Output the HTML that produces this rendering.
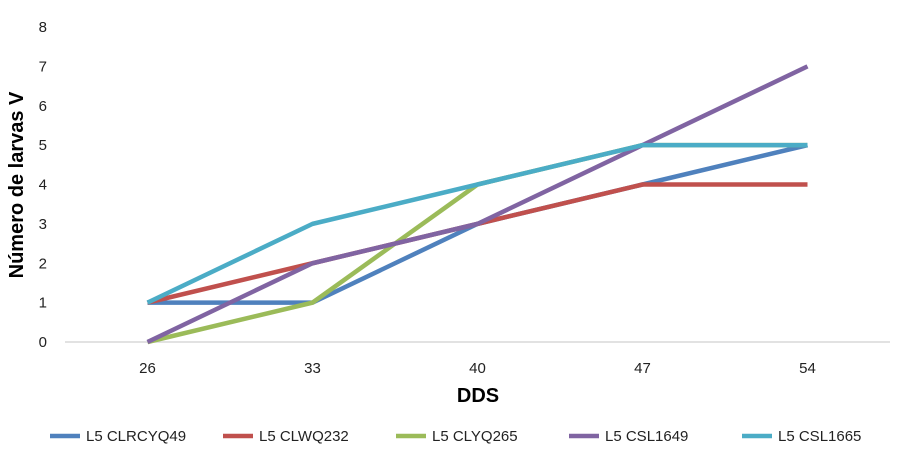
<!DOCTYPE html>
<html><head><meta charset="utf-8"><style>
body{margin:0;background:#fff;font-family:"Liberation Sans",sans-serif}
svg text{font-family:"Liberation Sans",sans-serif}
</style></head><body>
<svg id="chart" width="900" height="468">
<g id="axes"></g><g id="series"></g><g id="legend"></g>
</svg>
<script>
const categories=["26","33","40","47","54"];
const yTicks=[0,1,2,3,4,5,6,7,8];
const seriesNames=["L5 CLRCYQ49","L5 CLWQ232","L5 CLYQ265","L5 CSL1649","L5 CSL1665"];
const colors=["#4F81BD","#C0504D","#9BBB59","#8064A2","#4BACC6"];
const s1=[1,1,3,4,5];
const s2=[1,2,3,4,4];
const s3=[0,1,4,5,5];
const s4=[0,2,3,5,7];
const s5=[1,3,4,5,5];
const seriesValues=[s1,s2,s3,s4,s5];
const NS="http://www.w3.org/2000/svg";
const x0=65,x1=890,y0=342,yTop=27;
const xs=i=>x0+(x1-x0)*(i+0.5)/categories.length;
const ys=v=>y0-(y0-yTop)*v/8;
function mk(tag,attrs,parent){const e=document.createElementNS(NS,tag);for(const k in attrs)e.setAttribute(k,attrs[k]);parent.appendChild(e);return e;}
const ax=document.getElementById('axes');
const xl=mk('line',{x1:x0,x2:x1,y1:y0,y2:y0,stroke:'#D9D9D9','stroke-width':1.5},ax);


yTicks.forEach(v=>{
 const t=mk('text',{x:47,y:ys(v)+5,'text-anchor':'end','font-size':15,fill:'#222'},ax);t.textContent=v;
 
 
});
categories.forEach((c,i)=>{
 const t=mk('text',{x:xs(i),y:373,'text-anchor':'middle','font-size':15,fill:'#222'},ax);t.textContent=c;
 
 
});
const xt=mk('text',{x:478,y:402,'text-anchor':'middle','font-size':20,'font-weight':'bold',fill:'#000'},ax);xt.textContent="DDS";


const yt=mk('text',{x:0,y:0,transform:'translate(23,185) rotate(-90)','text-anchor':'middle','font-size':20,'font-weight':'bold',fill:'#000'},ax);yt.textContent="Número de larvas V";


const sg=document.getElementById('series');
seriesValues.forEach((vals,k)=>{
 const p=mk('polyline',{points:vals.map((v,i)=>xs(i)+','+ys(v)).join(' '),fill:'none',stroke:colors[k],'stroke-width':4.5,'stroke-linejoin':'round'},sg);
 
 
});
const lg=document.getElementById('legend');
const lx=[50,223,396,569,742];
seriesNames.forEach((n,k)=>{
 const l=mk('line',{x1:lx[k],x2:lx[k]+30,y1:436,y2:436,stroke:colors[k],'stroke-width':4.5},lg);
 
 
 const t=mk('text',{x:lx[k]+36,y:441,'font-size':15,fill:'#222'},lg);t.textContent=n;
 
 
});
</script>
</body></html>
